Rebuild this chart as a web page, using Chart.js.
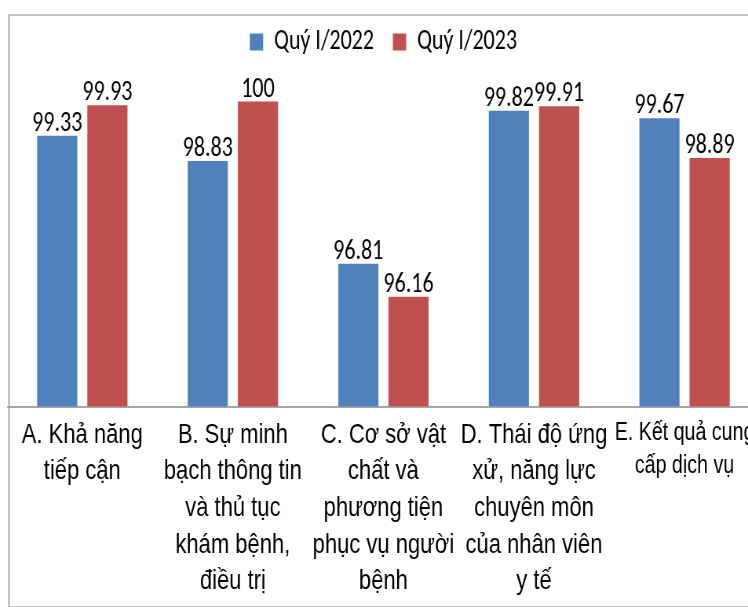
<!DOCTYPE html>
<html lang="vi">
<head>
<meta charset="utf-8">
<script src="https://cdn.jsdelivr.net/npm/chart.js@4/dist/chart.umd.min.js"></script>
<style>
  html, body { margin: 0; padding: 0; background: #fff; overflow: hidden; }
  .frame { position: absolute; left: 8px; top: 14px; width: 780px; height: 590px; border: 2px solid #c3c3c3; border-right: none; }
  /* bieu do goc bi ep ngang, nen ve rong hon roi co lai */
  .wrap { position: absolute; left: 7px; top: 14px; width: 959px; height: 592px; transform: scaleX(0.785); transform-origin: 0 0; }
</style>
</head>
<body>
<div class="frame"></div>
<div class="wrap"><canvas id="myChart"></canvas></div>
<script>
// du lieu
const categories = [
    ['A. Khả năng', 'tiếp cận'],
    ['B. Sự minh', 'bạch thông tin', 'và thủ tục', 'khám bệnh,', 'điều trị'],
    ['C. Cơ sở vật', 'chất và', 'phương tiện', 'phục vụ người', 'bệnh'],
    ['D. Thái độ ứng', 'xử, năng lực', 'chuyên môn', 'của nhân viên', 'y tế'],
    ['E. Kết quả cung', 'cấp dịch vụ']
];
const seriesNames = ['Quý I/2022', 'Quý I/2023'];
const values2022 = [99.33, 98.83, 96.81, 99.82, 99.67];
const values2023 = [99.93, 100, 96.16, 99.91, 98.89];

const LABEL_FONT = "'Liberation Sans', Arial, sans-serif";
const NUM_FONT = "Carlito, Lato, sans-serif";
const Y_MIN = 94;
const Y_MAX = 100.70;

Chart.defaults.font.family = LABEL_FONT;
Chart.defaults.color = '#000';

// ve so lieu tren cot
const valueLabels = {
    id: 'valueLabels',
    afterDatasetsDraw(chart) {
        const ctx = chart.ctx;
        ctx.save();
        ctx.font = '28px ' + NUM_FONT;
        ctx.fillStyle = '#000';
        ctx.textAlign = 'center';
        ctx.textBaseline = 'alphabetic';
        chart.data.datasets.forEach((ds, i) => {
            chart.getDatasetMeta(i).data.forEach((bar, j) => {
                ctx.fillText(String(ds.data[j]), bar.x, bar.y - 5);
            });
        });
        ctx.restore();
    }
};

document.addEventListener('DOMContentLoaded', function() {
    const ctx = document.getElementById('myChart').getContext('2d');
    new Chart(ctx, {
        type: 'bar',
        data: {
            labels: categories,
            datasets: [{
                label: seriesNames[0],
                data: values2022,
                backgroundColor: '#4f81bd',
                barPercentage: 0.8,
                categoryPercentage: 0.667
            }, {
                label: seriesNames[1],
                data: values2023,
                backgroundColor: '#c0504d',
                barPercentage: 0.8,
                categoryPercentage: 0.667
            }]
        },
        options: {
            responsive: true,
            maintainAspectRatio: false,
            animation: false,
            layout: {
                padding: { top: -10, bottom: 4, left: 0, right: 0 }
            },
            scales: {
                x: {
                    grid: { display: false },
                    border: { display: true, color: '#a6a6a6', width: 2 },
                    ticks: {
                        autoSkip: false,
                        maxRotation: 0,
                        minRotation: 0,
                        padding: 2,
                        color: '#000',
                        font: function(c) {
                            return c.index === 4
                                ? { size: 25, lineHeight: 1.32 }
                                : { size: 28, lineHeight: 1.31 };
                        }
                    }
                },
                y: {
                    display: false,
                    min: Y_MIN,
                    max: Y_MAX
                }
            },
            plugins: {
                legend: {
                    position: 'top',
                    labels: {
                        boxWidth: 17,
                        boxHeight: 17,
                        padding: 24,
                        color: '#000',
                        font: { size: 28, family: NUM_FONT }
                    }
                },
                tooltip: { enabled: false }
            }
        },
        plugins: [valueLabels]
    });
});
</script>
</body>
</html>
